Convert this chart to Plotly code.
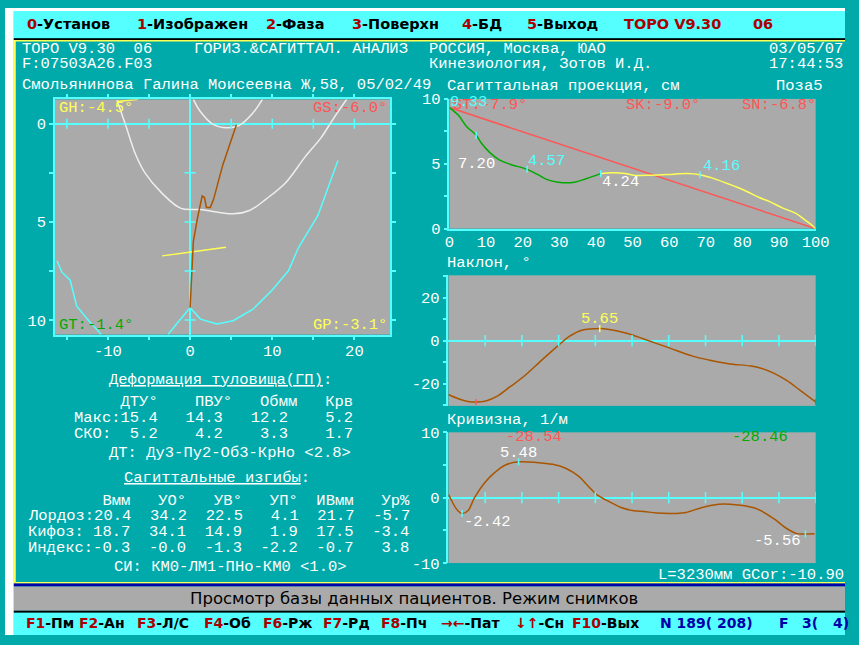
import plotly.graph_objects as go

W, H = 859, 645

# ---- EGA palette ----
TEAL = "#00AAAA"; CYAN = "#55FFFF"; GREY = "#AAAAAA"; WHITE = "#FFFFFF"
LRED = "#FF5555"; DRED = "#AA0000"; GREEN = "#00AA00"; YELLOW = "#FFFF55"
BROWN = "#AA5500"; NAVY = "#0000AA"; OUTLINE = "#EEEEEE"

MONO = "Liberation Mono"
SANS = "DejaVu Sans"
FS = 15.5  # 9.3 px per character cell

# ---- frontal (horizontal) view, cm ----
spine_x = [0.0, 0.16, 0.4, 0.88, 1.19, 1.47, 1.75, 1.99, 2.46, 2.86, 3.97, 4.85, 5.64]
spine_y = [9.37, 7.97, 5.99, 4.84, 4.17, 3.68, 3.76, 4.26, 4.26, 3.85, 2.11, 1.04, 0.05]
shoulder_x = [-8.9, -7.86, -6.67, -5.47, -3.49, -1.11, 1.27, 5.24, 7.23, 9.21, 11.6, 13.98, 15.95, 17.35, 19.1]
shoulder_y = [-1.2, 0.05, 1.53, 2.52, 3.51, 4.31, 4.37, 4.59, 4.42, 3.85, 3.02, 1.7, 0.71, -0.2, -1.27]
neck_x = [0.4, 1.27, 2.86, 4.45, 6.0, 7.62, 8.8]
neck_y = [-1.24, -0.61, 0.05, 0.21, 0.08, -0.53, -1.24]
pelvis_r_x = [18.0, 16.55, 15.56, 13.18, 11.99, 10.0, 7.62, 5.24, 3.26, 1.27, 0.0, -1.5, -2.69]
pelvis_r_y = [1.87, 3.51, 4.67, 6.32, 7.48, 8.47, 9.46, 10.03, 10.2, 9.95, 9.37, 10.12, 10.73]
pelvis_l_x = [-16.2, -15.6, -14.6, -13.8, -12.2, -10.8]
pelvis_l_y = [6.98, 7.56, 7.97, 9.29, 10.1, 10.73]
blade_x = [-3.4, 4.37]
blade_y = [6.73, 6.29]
collar_x = [-8.85, -6.3]
collar_y = [-1.13, -1.24]

# ---- sagittal projection, % of length vs cm ----
kyph_x = [0, 2.4, 4.6, 7.3, 8.7, 10.9, 13.6, 16.7, 21.2, 23.9, 26.5, 29.7, 34.1, 37.3, 41.3]
kyph_y = [9.33, 8.75, 7.9, 7.20, 6.6, 5.9, 5.3, 4.95, 4.57, 4.2, 3.8, 3.58, 3.58, 3.85, 4.24]
lord_x = [41.3, 44.4, 48, 50.2, 55.1, 61.3, 65, 68.4, 71.2, 75.7, 80.2, 84.6, 87.3, 90.9, 94.5, 96.7, 99, 100]
lord_y = [4.24, 4.3, 4.25, 4.12, 4.12, 4.2, 4.25, 4.16, 3.95, 3.5, 3.0, 2.4, 2.1, 1.6, 1.2, 0.75, 0.25, 0]
chord_x = [0, 100]
chord_y = [9.33, 0]
sag_mark_x = [0, 7.3, 21.2, 41.3, 68.4]
sag_mark_y = [9.33, 7.20, 4.57, 4.24, 4.16]

# ---- tilt, degrees ----
tilt_x = [0, 2.7, 5.3, 7.5, 10.2, 13.3, 16.8, 20.4, 25.7, 30.1, 32.8, 36.3, 41.2, 43.4, 48.8,
          53.2, 60.3, 66.5, 70.9, 76.2, 82.4, 85.1, 88.7, 92.2, 95.7, 100]
tilt_y = [-25.0, -27.0, -28.3, -28.54, -28.0, -25.8, -21.4, -16.8, -8.6, -2.0, 1.8, 4.8, 5.65, 5.3, 3.3,
          0.75, -3.5, -7.2, -9.0, -10.7, -11.8, -12.8, -15.2, -18.6, -23.0, -28.46]
tilt_max = (41.2, 5.65)
tilt_min = (7.5, -28.54)
tilt_end = (100, -28.46)

# ---- curvature, 1/m ----
curv_x = [0, 0.9, 2.2, 3.7, 5.3, 7.1, 9.8, 12.4, 15.5, 19.1, 23.9, 28.4, 31.9, 35.5, 38.1, 40.3, 43.4,
          47.0, 50.5, 53.2, 56.7, 62.1, 64.7, 69.1, 73.6, 76.7, 80.7, 84.2, 88.7, 92.2, 94.9, 97.2, 99.7]
curv_y = [0.5, -0.5, -1.75, -2.42, -2.0, 0.0, 2.25, 3.75, 5.0, 5.48, 5.4, 5.1, 4.5, 3.25, 1.75, 0.5, -0.5,
          -1.5, -2.0, -2.1, -2.35, -2.4, -2.25, -1.5, -1.0, -1.0, -1.25, -1.75, -3.25, -4.75, -5.5, -5.56, -5.5]
curv_mark_x = [3.7, 19.1, 97.2]
curv_mark_y = [-2.42, 5.48, -5.56]

# ---- trunk deformation table ----
deform_cols = ["ДТУ°", "ПВУ°", "Обмм", "Крв"]
deform_max = ["15.4", "14.3", "12.2", "5.2"]
deform_sko = ["5.2", "4.2", "3.3", "1.7"]
bend_cols = ["Вмм", "УО°", "УВ°", "УП°", "ИВмм", "Ур%"]
bend_rows = ["Лордоз:", "Кифоз:", "Индекс:"]
bend_vals = [["20.4", "34.2", "22.5", "4.1", "21.7", "-5.7"],
             ["18.7", "34.1", "14.9", "1.9", "17.5", "-3.4"],
             ["-0.3", "-0.0", "-1.3", "-2.2", "-0.7", "3.8"]]


def fx(x):
    return x / W


def fy(y):
    return 1 - y / H


def keep_spaces(s):
    return s.replace(" ", "\u00a0")


shapes = []
annotations = []


def rect(x0, y0, x1, y1, color):
    shapes.append(dict(type="rect", xref="paper", yref="paper", x0=fx(x0), x1=fx(x1),
                       y0=fy(y1), y1=fy(y0), fillcolor=color, line=dict(width=0), layer="below"))


def txt(x, y, s, color=WHITE, size=FS, anchor="left", family=MONO):
    annotations.append(dict(x=fx(x), y=fy(y), xref="paper", yref="paper", text=s, showarrow=False,
                            xanchor=anchor, yanchor="middle", borderpad=0, borderwidth=0,
                            font=dict(family=family, size=size, color=color)))


def val_label(xr, yr, x, y, color, anchor="center", dy=0, dx=0):
    annotations.append(dict(x=x, y=y, xref=xr, yref=yr, text=f"{y:.2f}", showarrow=False,
                            xanchor=anchor, yanchor="middle", xshift=dx, yshift=dy,
                            borderpad=0, borderwidth=0,
                            font=dict(family=MONO, size=FS, color=color)))


# ---- screen frame ----
rect(0, 0, 9, H, WHITE)
rect(0, 0, W, 3, WHITE)
rect(9, 3, W, 31, CYAN)
rect(9, 31, W, 33, "#000000")
rect(9, 33, W, 34.5, YELLOW)
rect(9, 33, 11, 592, YELLOW)
rect(11, 590.5, W, 592, YELLOW)
rect(9, 592, W, 595, NAVY)
rect(9, 595, W, 620, GREY)
rect(9, 620, W, 622, "#000000")
rect(9, 622, W, H, CYAN)

fig = go.Figure()


def line(x, y, color, xa, ya, shape="linear", width=1.5):
    fig.add_trace(go.Scatter(x=x, y=y, mode="lines", xaxis=xa, yaxis=ya, hoverinfo="skip",
                             line=dict(color=color, width=width, shape=shape)))


def marks(x, y, color, xa, ya, symbol="line-ns", size=6):
    fig.add_trace(go.Scatter(x=x, y=y, mode="markers", xaxis=xa, yaxis=ya, hoverinfo="skip",
                             marker=dict(symbol=symbol, size=size, color=color,
                                         line=dict(color=color, width=1.5))))


# frontal view
line(neck_x, neck_y, OUTLINE, "x", "y", "spline")
line(shoulder_x, shoulder_y, OUTLINE, "x", "y", "spline")
line(pelvis_r_x, pelvis_r_y, CYAN, "x", "y")
line(pelvis_l_x, pelvis_l_y, CYAN, "x", "y")
line(blade_x, blade_y, YELLOW, "x", "y")
line(collar_x, collar_y, YELLOW, "x", "y")
line(spine_x, spine_y, BROWN, "x", "y")
marks([-15, -10, -5, 5, 10, 15, 20], [0] * 7, CYAN, "x", "y", "line-ns", 7)
marks([0] * 4, [2.5, 5, 7.5, 10], CYAN, "x", "y", "line-ew", 8)

# sagittal projection
line(chord_x, chord_y, LRED, "x2", "y2")
line(kyph_x, kyph_y, GREEN, "x2", "y2", "spline")
line(lord_x, lord_y, YELLOW, "x2", "y2", "spline")
marks(sag_mark_x[1:], sag_mark_y[1:], CYAN, "x2", "y2", "line-ns", 5)

# tilt
line(tilt_x, tilt_y, BROWN, "x3", "y3", "spline")
marks(list(range(10, 101, 10)), [0] * 10, CYAN, "x3", "y3", "line-ns", 8)
marks([tilt_max[0]], [tilt_max[1]], YELLOW, "x3", "y3", "line-ns", 5)
marks([tilt_min[0]], [tilt_min[1]], LRED, "x3", "y3", "line-ns", 4)
marks([tilt_end[0]], [tilt_end[1]], GREEN, "x3", "y3", "line-ns", 4)

# curvature
line(curv_x, curv_y, BROWN, "x4", "y4", "spline")
marks(list(range(10, 101, 10)), [0] * 10, CYAN, "x4", "y4", "line-ns", 8)
marks(curv_mark_x, curv_mark_y, CYAN, "x4", "y4", "line-ns", 5)

tickfont = dict(family=MONO, size=FS, color=WHITE)


def axis(px0, px1, rng, vertical, **kw):
    if vertical:
        dom = [1 - px1 / H, 1 - px0 / H]
    else:
        dom = [px0 / W, px1 / W]
    d = dict(domain=dom, range=rng, showgrid=False, zeroline=False, tickfont=tickfont,
             tickcolor=CYAN, linecolor=CYAN, linewidth=1.5, tickwidth=1.5, fixedrange=True)
    d.update(kw)
    return d


# frontal view axes
xa = axis(51, 394, [-16.46, 24.37], False, anchor="y", tickvals=[-15, -10, -5, 0, 5, 10, 15, 20],
          ticktext=["", "-10", "", "0", "", "10", "", "20"], ticks="outside", ticklen=4,
          ticklabelstandoff=-3,
          showline=True, mirror="ticks", zeroline=True, zerolinecolor=CYAN, zerolinewidth=1.5)
ya = axis(94, 336, [10.74, -1.24], True, anchor="x", tickvals=[0, 2.5, 5, 7.5, 10],
          ticktext=["0", "", "5", "", "10"], ticks="outside", ticklen=4,
          showline=True, mirror="ticks", zeroline=True, zerolinecolor=CYAN, zerolinewidth=1.5)
# sagittal projection axes
xb = axis(454.5, 829, [0, 100], False, anchor="y2", tickvals=list(range(0, 101, 10)),
          ticks="", ticklabelstandoff=-2, showline=True)
yb = axis(93.5, 227, [0, 10], True, anchor="x2", tickvals=[0, 2.5, 5, 7.5, 10],
          ticktext=["0", "", "5", "", "10"], ticks="outside", ticklen=4, showline=True)
# tilt axes
xc = axis(453.5, 829, [0, 100], False, anchor="y3", showticklabels=False, ticks="", showline=False)
yc = axis(275, 409.3, [-30.3, 30.3], True, anchor="x3", tickvals=[-30, -20, -10, 0, 10, 20, 30],
          ticktext=["", "-20", "", "0", "", "20", ""], ticks="outside", ticklen=4, showline=True,
          zeroline=True, zerolinecolor=CYAN, zerolinewidth=2)
# curvature axes
xd = axis(453.5, 829, [0, 100], False, anchor="y4", showticklabels=False, ticks="", showline=False)
yd = axis(436.5, 571, [-10, 10], True, anchor="x4", tickvals=[-10, -5, 0, 5, 10],
          ticktext=["-10", "", "0", "", "10"], ticks="outside", ticklen=4, showline=True,
          zeroline=True, zerolinecolor=CYAN, zerolinewidth=2)

# ---- menu bar ----
NB = "\u00a0"


def menu(x, key, rest):
    txt(x, 16, f"<b><span style='color:{DRED}'>{key}</span>{rest}</b>", "#000000", 14.5, family=SANS)


menu(22, "0", "-Установ")
menu(135, "1", "-Изображен")
menu(267, "2", "-Фаза")
menu(355, "3", "-Поверхн")
menu(467, "4", "-БД")
menu(534, "5", "-Выход")
txt(633, 16, "<b>TOPO V9.30</b>", DRED, 14.5, family=SANS)
txt(765, 16, "<b>06</b>", DRED, 14.5, family=SANS)

# ---- header ----
txt(17, 42, keep_spaces("TOPO V9.30  06"))
txt(193, 42, "ГОРИЗ.&amp;САГИТТАЛ. АНАЛИЗ")
txt(17, 58, "F:07503A26.F03")
txt(17, 79, "Смольянинова Галина Моисеевна Ж,58, 05/02/49")
txt(434, 42, "РОССИЯ, Москва, ЮАО")
txt(434, 58, "Кинезиология, Зотов И.Д.")
txt(857, 42, "03/05/07", anchor="right")
txt(857, 58, "17:44:53", anchor="right")
txt(452, 80, "Сагиттальная проекция, см")
txt(836, 80, "Поза5", anchor="right")
txt(452, 262, "Наклон, °")
txt(452, 424, "Кривизна, 1/м")
txt(858, 583, "L=3230мм GCor:-10.90", anchor="right")

# ---- in-plot angle labels ----
txt(55, 103, "GH:-4.5°", YELLOW)
txt(391, 103, "GS:-6.0°", LRED, anchor="right")
txt(55, 326, "GT:-1.4°", GREEN)
txt(391, 326, "GP:-3.1°", YELLOW, anchor="right")
txt(458, 100, "ST:-7.9°", LRED)
txt(635, 100, "SK:-9.0°", LRED)
txt(829, 100, "SN:-6.8°", LRED, anchor="right")

# ---- value labels on curves (drawn over the angle labels) ----
val_label("x2", "y2", 0, 9.33, CYAN, "left", dy=6, dx=1)
val_label("x2", "y2", 7.3, 7.20, WHITE, "center", dy=-29)
val_label("x2", "y2", 21.2, 4.57, CYAN, "left", dy=8, dx=1)
val_label("x2", "y2", 41.3, 4.24, WHITE, "left", dy=-8, dx=1)
val_label("x2", "y2", 68.4, 4.16, CYAN, "left", dy=8.5, dx=3)
val_label("x3", "y3", tilt_max[0], tilt_max[1], YELLOW, "center", dy=9)
val_label("x4", "y4", 19.1, 5.48, WHITE, "center", dy=9)
val_label("x4", "y4", 3.7, -2.42, WHITE, "left", dy=-8, dx=2)
val_label("x4", "y4", 97.2, -5.56, WHITE, "right", dy=-7, dx=-4)
txt(512, 441, f"{tilt_min[1]:.2f}", LRED)
txt(743, 441, f"{tilt_end[1]:.2f}", GREEN)

# ---- trunk deformation table (fixed-width rows) ----
txt(220, 383, "<u>Деформация туловища(ГП)</u>:", anchor="center")
deform_head = " " * 5 + deform_cols[0] + deform_cols[1].rjust(8) + deform_cols[2].rjust(7) + deform_cols[3].rjust(6)
row_max = "Макс:" + deform_max[0].rjust(4) + "".join(v.rjust(7) for v in deform_max[1:])
row_sko = "СКО:" + deform_sko[0].rjust(5) + "".join(v.rjust(7) for v in deform_sko[1:])
txt(71, 405, keep_spaces(deform_head))
txt(71, 422, keep_spaces(row_max))
txt(71, 438, keep_spaces(row_sko))
txt(106, 458, "ДТ: Ду3-Пу2-Об3-КрНо &lt;2.8&gt;")

txt(217, 484, "<u>Сагиттальные изгибы</u>:", anchor="center")
bend_head = " " * 7 + bend_cols[0].rjust(4) + "".join(c.rjust(6) for c in bend_cols[1:])
txt(24, 507, keep_spaces(bend_head))
for r, (name, vals) in enumerate(zip(bend_rows, bend_vals)):
    row = name.ljust(7) + vals[0].rjust(4) + "".join(v.rjust(6) for v in vals[1:])
    txt(24, 523 + 16 * r, keep_spaces(row))
txt(111, 575, "СИ: КМ0-ЛМ1-ПНо-КМ0 &lt;1.0&gt;")

# ---- status and function-key bars ----
txt(418, 607, "Просмотр базы данных пациентов. Режим снимков", "#000000", 16.5, "center", SANS)


def fkey(x, key, rest):
    txt(x, 633, f"<b><span style='color:{DRED}'>{key}</span>{rest}</b>", "#000000", 14, family=SANS)


fkey(21, "F1", "-Пм")
fkey(76, "F2", "-Ан")
fkey(135, "F3", "-Л/С")
fkey(203, "F4", "-Об")
fkey(264, "F6", "-Рж")
fkey(325, "F7", "-Рд")
fkey(385, "F8", "-Пч")
fkey(446, "→←", "-Пат")
fkey(522, "↓↑", "-Сн")
fkey(580, "F10", "-Вых")
txt(670, 633, "<b>N" + NB + "189(" + NB + "208)</b>", NAVY, 14, family=SANS)
txt(792, 633, "<b>F</b>", NAVY, 14, family=SANS)
txt(815, 633, "<b>3(</b>", NAVY, 14, family=SANS)
txt(847, 633, "<b>4)</b>", NAVY, 14, family=SANS)

fig.update_layout(
    width=W, height=H, margin=dict(l=0, r=0, t=0, b=0),
    paper_bgcolor=TEAL, plot_bgcolor=GREY, showlegend=False,
    xaxis=xa, yaxis=ya, xaxis2=xb, yaxis2=yb, xaxis3=xc, yaxis3=yc, xaxis4=xd, yaxis4=yd,
    shapes=shapes, annotations=annotations,
)

fig.write_html("out.html", config={"displayModeBar": False})
